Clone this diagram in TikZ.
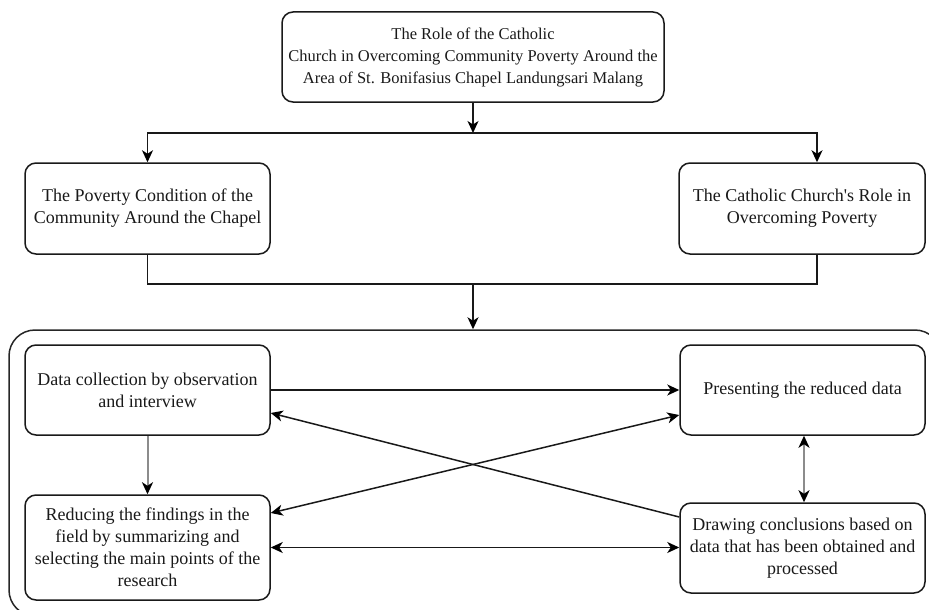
\documentclass[tikz,border=0pt]{standalone}
\usepackage{fontspec}
\setmainfont{Liberation Serif}
\usetikzlibrary{arrows.meta}
\begin{document}
\begin{tikzpicture}[x=1pt,y=-1pt,
  box/.style={draw=black!90, line width=1.5pt, rounded corners=11pt, align=center, inner sep=0pt, text=black!90,
    font=\fontsize{18}{22}\selectfont},
  tipk/.style={-{Stealth[length=12pt,width=11pt,inset=3.5pt,color=black]}},
  arr/.style={line width=1.5pt, black!90, tipk},
  darr/.style={line width=1.5pt, black!90, {Stealth[length=12pt,width=11pt,inset=3.5pt,color=black]}-{Stealth[length=12pt,width=11pt,inset=3.5pt,color=black]}},
  ln/.style={line width=1.5pt, black!90},
  garr/.style={line width=2pt, black!45, tipk},
  gdarr/.style={line width=2pt, black!45, {Stealth[length=12pt,width=11pt,inset=3.5pt,color=black]}-{Stealth[length=12pt,width=11pt,inset=3.5pt,color=black]}}
]
\useasboundingbox (0,0) rectangle (929,610);

% outer container (cropped at right and bottom)
\begin{scope}
\clip (0,0) rectangle (929,610);
\node[draw=black!85, line width=1.5pt, rounded corners=26pt, minimum width=932pt, minimum height=286pt, inner sep=0pt] (big) at (475,473) {};
\end{scope}

\node[box, minimum width=382pt, minimum height=90pt, font=\fontsize{16.5}{22}\selectfont] (top) at (473,57)
  {The Role of the Catholic\\Church in Overcoming Community Poverty Around the\\Area of St. Bonifasius Chapel Landungsari Malang};
\node[box, minimum width=245pt, minimum height=91pt] (L) at (147.5,208.5)
  {The Poverty Condition of the\\Community Around the Chapel};
\node[box, minimum width=246pt, minimum height=91pt] (Rt) at (802,208.5)
  {The Catholic Church\textquotesingle s Role in\\Overcoming Poverty};

\node[box, minimum width=245pt, minimum height=90pt] (D) at (147.5,390)
  {Data collection by observation\\and interview};
\node[box, minimum width=245pt, minimum height=105pt] (R) at (147.5,547.5)
  {Reducing the findings in the\\field by summarizing and\\selecting the main points of the\\research};
\node[box, minimum width=245pt, minimum height=90pt] (P) at (802.5,390)
  {Presenting the reduced data};
\node[box, minimum width=245pt, minimum height=90pt] (C) at (802.5,548)
  {Drawing conclusions based on\\data that has been obtained and\\processed};

% top connectors
\coordinate (j1) at (473,133);
\draw[arr] (top.south) -- (j1);
\draw[arr] (j1) -| (L.north);
\draw[arr] (j1) -| ([xshift=15pt]Rt.north);
\coordinate (j2) at (473,284);
\draw[ln] (L.south) |- (j2);
\draw[ln] ([xshift=15pt]Rt.south) |- (j2);
\draw[arr] (j2) -- (j2 |- big.north);

% inner connectors
\draw[arr] (D.east) -- (P.west);
\draw[arr] ([yshift=31pt]C.west) -- ([yshift=-23pt]D.east);
\draw[darr] ([yshift=34.5pt]R.east) -- ([yshift=-25pt]P.west);
\draw[darr] (R.east) -- (R.east -| C.west);
\draw[garr] (D.south) -- (R.north);
\draw[gdarr] ([xshift=1.5pt]P.south) -- ([xshift=1.5pt]P.south |- C.north);
\end{tikzpicture}
\end{document}
